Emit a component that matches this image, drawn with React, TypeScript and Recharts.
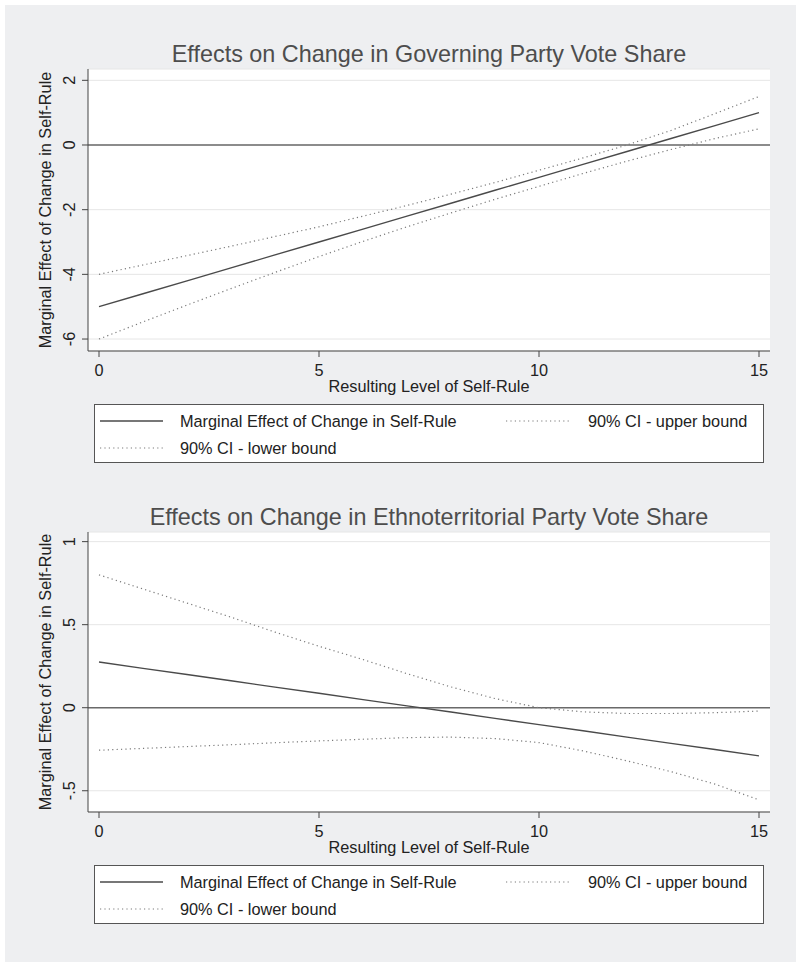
import { LineChart, Line, XAxis, YAxis, CartesianGrid, ReferenceLine } from 'recharts';

// resulting level of self-rule (x positions)
const selfRule = [0, 1, 2, 3, 4, 5, 6, 7, 8, 9, 10, 11, 12, 13, 14, 15];

// governing party vote share
const govEffect = [-5.0, -4.6, -4.2, -3.8, -3.4, -3.0, -2.6, -2.2, -1.8, -1.4, -1.0, -0.6, -0.2, 0.2, 0.6, 1.0];
const govUpper = [-4.0, -3.71, -3.42, -3.13, -2.83, -2.53, -2.2, -1.87, -1.52, -1.16, -0.78, -0.4, 0.0, 0.45, 0.97, 1.5];
const govLower = [-6.0, -5.47, -4.95, -4.44, -3.94, -3.45, -2.98, -2.53, -2.1, -1.68, -1.28, -0.88, -0.5, -0.14, 0.2, 0.5];

// ethnoterritorial party vote share
const ethEffect = [0.275, 0.237, 0.2, 0.162, 0.124, 0.087, 0.049, 0.011, -0.026, -0.064, -0.102, -0.139, -0.177, -0.215, -0.252, -0.29];
const ethUpper = [0.8, 0.715, 0.63, 0.545, 0.455, 0.37, 0.29, 0.205, 0.125, 0.055, 0.0, -0.025, -0.035, -0.035, -0.03, -0.02];
const ethLower = [-0.256, -0.245, -0.234, -0.223, -0.211, -0.2, -0.19, -0.18, -0.177, -0.186, -0.21, -0.26, -0.32, -0.385, -0.46, -0.555];

const xTicks = [0, 5, 10, 15];
const govTicks = [-6, -4, -2, 0, 2];
const ethTicks = [-0.5, 0, 0.5, 1];

const legendLabels = ['Marginal Effect of Change in Self-Rule', '90% CI - upper bound', '90% CI - lower bound'];
const xTitle = 'Resulting Level of Self-Rule';
const yTitle = 'Marginal Effect of Change in Self-Rule';

const FONT = '"Liberation Sans", Arial, Helvetica, sans-serif';
const FS = 16.3;
const BG = '#eeeff1';
const MAIN = '#4a4a4a';
const DOT = '#7a7a7a';
const DASH = '1.2 3.2';

const toRows = (eff: number[], up: number[], lo: number[]) =>
  selfRule.map((x, i) => ({ x, effect: eff[i], upper: up[i], lower: lo[i] }));

const fmtGov = (v: number) => String(v);
const fmtEth = (v: number) => {
  if (v === 0) return '0';
  const s = String(Math.abs(v)).replace(/^0/, '');
  return (v < 0 ? '-' : '') + s;
};

const YTick = (props: any) => {
  const { x, y, payload, fmt } = props;
  return (
    <text x={x} y={y} transform={`rotate(-90, ${x}, ${y})`} textAnchor="middle"
      fontSize={FS} fill="#222" fontFamily={FONT}>
      {fmt(payload.value)}
    </text>
  );
};

interface PanelProps {
  top: number;
  plotHeight: number;
  title: string;
  data: { x: number; effect: number; upper: number; lower: number }[];
  yDomain: [number, number];
  yTicks: number[];
  fmt: (v: number) => string;
}

const Sample = ({ left, y, dotted }: { left: number; y: number; dotted: boolean }) => (
  <svg style={{ position: 'absolute', left, top: y - 3 }} width={64} height={6}>
    <line x1={0} y1={3} x2={63} y2={3} stroke={dotted ? DOT : MAIN}
      strokeWidth={dotted ? 1.2 : 1.4} strokeDasharray={dotted ? DASH : undefined} />
  </svg>
);

const Panel = ({ top, plotHeight, title, data, yDomain, yTicks, fmt }: PanelProps) => {
  const marginTop = 69;
  const xAxisH = 45;
  const chartH = marginTop + plotHeight + xAxisH;
  const legendTop = top + chartH + 8;
  const row1 = legendTop + 23;
  const row2 = legendTop + 50;
  const textStyle = { position: 'absolute' as const, fontSize: FS, lineHeight: '16px', color: '#222', whiteSpace: 'nowrap' as const };
  return (
    <>
      <div style={{ position: 'absolute', left: 88, width: 682, top: top + 42.7, textAlign: 'center',
        fontSize: 23.4, lineHeight: '23px', color: '#4d4d4d', whiteSpace: 'nowrap' }}>
        {title}
      </div>
      <div style={{ position: 'absolute', left: 0, top }}>
        <LineChart width={796} height={chartH} data={data}
          margin={{ top: marginTop, right: 26, bottom: 0, left: 3 }}>
          <CartesianGrid vertical={false} stroke="#e6e6e6" fill="#fff" fillOpacity={1} />
          <XAxis dataKey="x" type="number" domain={[-0.25, 15.25]} ticks={xTicks} allowDataOverflow
            height={xAxisH} tickSize={6} tickMargin={7} stroke="#444"
            tick={{ fontSize: FS, fill: '#222', fontFamily: FONT }}
            label={{ value: xTitle, position: 'insideBottom', offset: 4.5, fontSize: FS, fill: '#222', fontFamily: FONT }} />
          <YAxis type="number" domain={yDomain} ticks={yTicks} allowDataOverflow width={85}
            tickSize={6} tickMargin={7} stroke="#444"
            tick={(p: any) => <YTick {...p} fmt={fmt} />}
            label={{ value: yTitle, angle: -90, position: 'center', fontSize: FS, fill: '#222', fontFamily: FONT }} />
          <ReferenceLine y={0} stroke="#6a6a6a" strokeWidth={1.4} />
          <Line type="linear" dataKey="upper" stroke={DOT} strokeWidth={1.2} strokeDasharray={DASH}
            dot={false} isAnimationActive={false} />
          <Line type="linear" dataKey="lower" stroke={DOT} strokeWidth={1.2} strokeDasharray={DASH}
            dot={false} isAnimationActive={false} />
          <Line type="linear" dataKey="effect" stroke={MAIN} strokeWidth={1.4}
            dot={false} isAnimationActive={false} />
        </LineChart>
      </div>
      <div style={{ position: 'absolute', left: 94, top: legendTop, width: 670, height: 59,
        boxSizing: 'border-box', border: '1px solid #555', background: '#fff' }} />
      <Sample left={100} y={row1 - 5.8} dotted={false} />
      <div style={{ ...textStyle, left: 180, top: row1 - 13.65 }}>{legendLabels[0]}</div>
      <Sample left={506} y={row1 - 5.8} dotted />
      <div style={{ ...textStyle, left: 588, top: row1 - 13.65 }}>{legendLabels[1]}</div>
      <Sample left={100} y={row2 - 5.8} dotted />
      <div style={{ ...textStyle, left: 180, top: row2 - 13.65 }}>{legendLabels[2]}</div>
    </>
  );
};

export default function App() {
  return (
    <div style={{ position: 'absolute', left: 0, top: 0, width: 796, height: 962, background: '#fff', fontFamily: FONT }}>
      <div style={{ position: 'absolute', left: 5, top: 5, right: 0, bottom: 0, background: BG }} />
      <Panel top={0} plotHeight={282} title="Effects on Change in Governing Party Vote Share"
        data={toRows(govEffect, govUpper, govLower)} yDomain={[-6.37, 2.35]} yTicks={govTicks} fmt={fmtGov} />
      <Panel top={463} plotHeight={280} title="Effects on Change in Ethnoterritorial Party Vote Share"
        data={toRows(ethEffect, ethUpper, ethLower)} yDomain={[-0.628, 1.058]} yTicks={ethTicks} fmt={fmtEth} />
    </div>
  );
}
